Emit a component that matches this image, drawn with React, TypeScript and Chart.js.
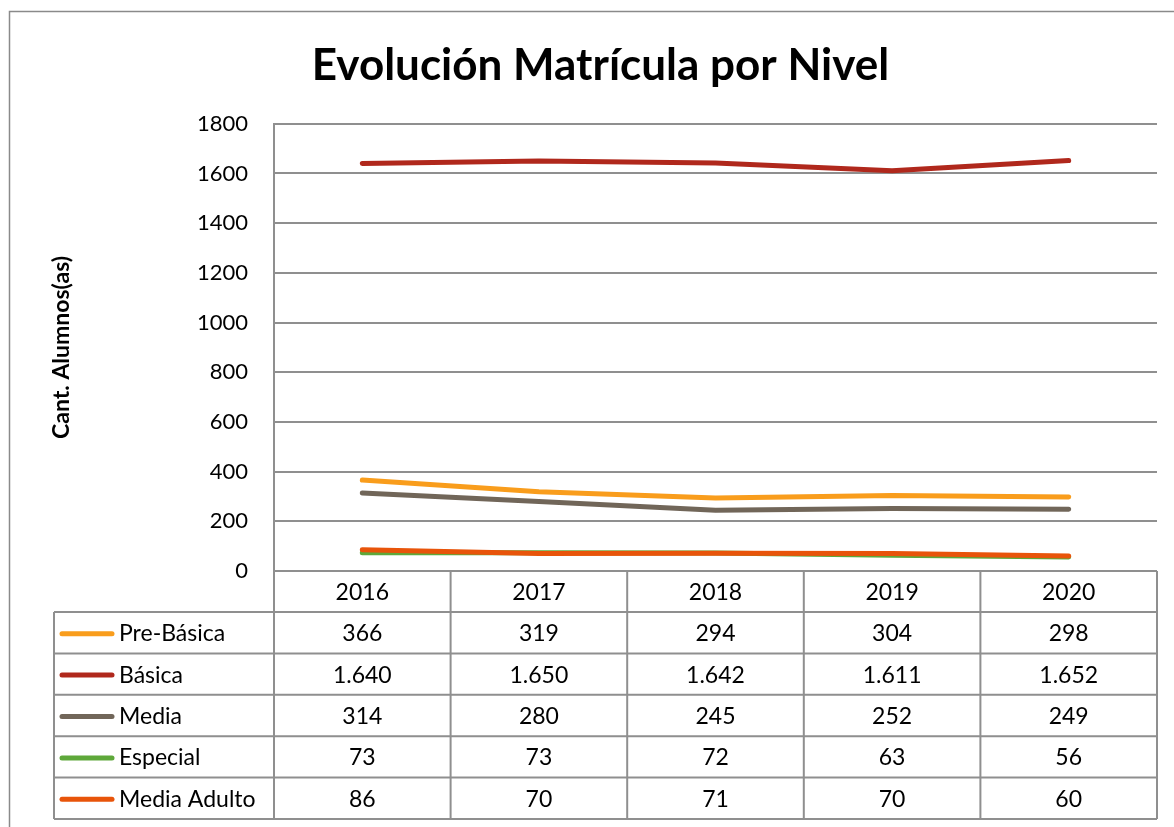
import React, { useEffect, useRef } from "react";
import { Chart, registerables } from "chart.js";

Chart.register(...registerables);

const categories = ["2016", "2017", "2018", "2019", "2020"];
const seriesNames = ["Pre-Básica", "Básica", "Media", "Especial", "Media Adulto"];
const preBasica = [366, 319, 294, 304, 298];
const basica = [1640, 1650, 1642, 1611, 1652];
const media = [314, 280, 245, 252, 249];
const especial = [73, 73, 72, 63, 56];
const mediaAdulto = [86, 70, 71, 70, 60];
const seriesColors = ["#F99D1C", "#B0281C", "#716659", "#5EA83A", "#E8540A"];
const yTicks = [0, 200, 400, 600, 800, 1000, 1200, 1400, 1600, 1800];

const FONT = "Lato, 'Open Sans', sans-serif";
const GRID = "#8f8f8f";

const fmt = (v: number) => String(v).replace(/\B(?=(\d{3})+(?!\d))/g, ".");

const framePlugin = {
  id: "frame",
  beforeDraw(chart: any) {
    const ctx = chart.ctx;
    ctx.save();
    ctx.fillStyle = "#fff";
    ctx.fillRect(0, 0, chart.width, chart.height);
    ctx.strokeStyle = "#8a8a8a";
    ctx.lineWidth = 1.5;
    ctx.beginPath();
    ctx.moveTo(9.5, chart.height + 5);
    ctx.lineTo(9.5, 11.5);
    ctx.lineTo(chart.width + 5, 11.5);
    ctx.stroke();
    ctx.restore();
  },
};

const tablePlugin = {
  id: "dataTable",
  afterDraw(chart: any) {
    const ctx = chart.ctx;
    const xs = chart.scales.x;
    const area = chart.chartArea;
    const data = chart.data.datasets;
    const step = xs.getPixelForValue(1) - xs.getPixelForValue(0);
    const headerTop = area.bottom;
    const headerH = 41;
    const rowH = 41.4;
    const tableLeft = 54;
    const nRows = data.length;
    const bottom = headerTop + headerH + rowH * nRows;
    const labels = chart.data.labels;

    ctx.save();
    ctx.strokeStyle = GRID;
    ctx.lineWidth = 2;
    ctx.beginPath();
    for (let i = 0; i <= labels.length; i++) {
      const xp = xs.getPixelForValue(0) - step / 2 + step * i;
      ctx.moveTo(xp, headerTop);
      ctx.lineTo(xp, bottom);
    }
    ctx.moveTo(area.left, headerTop);
    ctx.lineTo(area.left, bottom);
    ctx.moveTo(tableLeft, headerTop + headerH);
    ctx.lineTo(tableLeft, bottom);
    for (let r = 0; r <= nRows; r++) {
      const yp = headerTop + headerH + rowH * r;
      ctx.moveTo(tableLeft, yp);
      ctx.lineTo(area.right, yp);
    }
    ctx.stroke();

    ctx.fillStyle = "#000";
    ctx.font = `23px ${FONT}`;
    ctx.textAlign = "center";
    ctx.textBaseline = "middle";
    labels.forEach((lab: string, i: number) => {
      ctx.fillText(lab, xs.getPixelForValue(i), headerTop + headerH / 2 + 1);
    });

    data.forEach((ds: any, r: number) => {
      const cy = headerTop + headerH + rowH * r + rowH / 2 + 1;
      ctx.strokeStyle = ds.borderColor;
      ctx.lineWidth = 5;
      ctx.lineCap = "round";
      ctx.beginPath();
      ctx.moveTo(62, cy);
      ctx.lineTo(112, cy);
      ctx.stroke();
      ctx.fillStyle = "#000";
      ctx.textAlign = "left";
      ctx.fillText(ds.label, 119, cy);
      ctx.textAlign = "center";
      ds.data.forEach((v: number, i: number) => {
        ctx.fillText(fmt(v), xs.getPixelForValue(i), cy);
      });
    });
    ctx.restore();
  },
};

export default function App() {
  const ref = useRef<HTMLCanvasElement | null>(null);
  useEffect(() => {
    if (!ref.current) return;
    const values = [preBasica, basica, media, especial, mediaAdulto];
    const chart = new Chart(ref.current, {
      type: "line",
      data: {
        labels: categories,
        datasets: seriesNames.map((name, i) => ({
          label: name,
          data: values[i],
          borderColor: seriesColors[i],
          backgroundColor: seriesColors[i],
          borderWidth: 5,
          borderCapStyle: "round",
          borderJoinStyle: "round",
          pointRadius: 0,
          tension: 0,
          order: seriesNames.length - i,
        })),
      },
      options: {
        responsive: false,
        animation: false,
        layout: { padding: { left: 44, right: 17, top: 0, bottom: 256 } },
        plugins: {
          legend: { display: false },
          tooltip: { enabled: false },
          title: {
            display: true,
            text: "Evolución Matrícula por Nivel",
            color: "#000",
            font: { family: FONT, size: 44, weight: "bold", lineHeight: 1.2 },
            padding: { top: 39, bottom: 32 },
          },
        },
        scales: {
          x: { type: "category", display: false, offset: true },
          y: {
            min: 0,
            max: 1800,
            afterBuildTicks: (scale: any) => {
              scale.ticks = yTicks.map((v) => ({ value: v }));
            },
            afterFit: (scale: any) => {
              scale.width = 230;
            },
            ticks: {
              color: "#000",
              padding: 26,
              font: { family: FONT, size: 22 },
              callback: (v: any) => String(v),
            },
            grid: { color: GRID, lineWidth: 2, drawTicks: false },
            border: { display: true, color: GRID, width: 2 },
            title: {
              display: true,
              text: "Cant. Alumnos(as)",
              color: "#000",
              font: { family: FONT, size: 23, weight: "bold" },
              padding: { top: 4, bottom: 0 },
            },
          },
        },
      },
      plugins: [framePlugin, tablePlugin],
    } as any);
    return () => chart.destroy();
  }, []);
  return (
    <div style={{ position: "absolute", left: 0, top: 0, width: 1174, height: 827 }}>
      <canvas ref={ref} width={1174} height={827} />
    </div>
  );
}
